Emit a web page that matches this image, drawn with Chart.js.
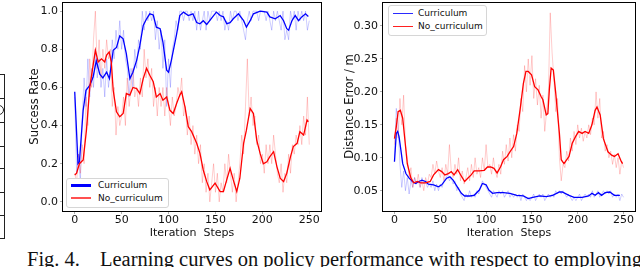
<!DOCTYPE html>
<html>
<head>
<meta charset="utf-8">
<script src="https://cdn.jsdelivr.net/npm/chart.js"></script>
<style>
  body { margin: 0; background: #fff; }
  #wrap { position: relative; width: 640px; height: 267px; overflow: hidden; background: #fff; }
  canvas { position: absolute; top: 0; }
  #leftChart { left: 0; }
  #rightChart { left: 330px; }
  .legend { position: absolute; background: #fff; border: 1px solid #d6d6d6; border-radius: 3px; z-index: 2;
            font-family: "DejaVu Sans"; font-size: 9px; color: #111; }
  .legend .row { position: absolute; white-space: nowrap; line-height: 11px; height: 11px; }
  .legend .swatch { position: absolute; left: 4px; width: 20px; }
  .caption { position: absolute; top: 248px; font-family: "Liberation Serif"; font-size: 20.5px; color: #111; white-space: nowrap; }
  .tbl { position: absolute; left: -2px; width: 5px; border: 1px solid #222; }
</style>
</head>
<body>
<div id="wrap">
  <div class="tbl" style="top:74px;height:23px"></div>
  <div class="tbl" style="top:98px;height:23px"></div>
  <div class="tbl" style="top:122px;height:23px"></div>
  <div class="tbl" style="top:146px;height:21px"></div>
  <div class="tbl" style="top:168px;height:23px"></div>
  <div class="tbl" style="top:192px;height:22px"></div>
  <div class="tbl" style="top:215px;height:22px"></div>
  <div style="position:absolute;left:-6px;top:105px;width:8px;height:8px;border:1px solid #222;border-radius:50%"></div>

  <canvas id="leftChart" width="330" height="245"></canvas>
  <canvas id="rightChart" width="310" height="245"></canvas>

  <div class="legend" style="left:66px;top:178px;width:101px;height:28px">
    <div class="row" style="left:0;top:1px"><span class="swatch" style="top:4px;height:3px;background:#0000ff"></span><span style="position:absolute;left:31px">Curriculum</span></div>
    <div class="row" style="left:0;top:14px"><span class="swatch" style="top:4px;height:2px;background:#ff5050"></span><span style="position:absolute;left:31px">No_curriculum</span></div>
  </div>
  <div class="legend" style="left:388px;top:5px;width:97px;height:29px">
    <div class="row" style="left:0;top:2px"><span class="swatch" style="top:5px;height:1px;background:#2a2aff"></span><span style="position:absolute;left:29px">Curriculum</span></div>
    <div class="row" style="left:0;top:15px"><span class="swatch" style="top:5px;height:1px;background:#ff2020"></span><span style="position:absolute;left:29px">No_curriculum</span></div>
  </div>

  <div class="caption" style="left:27px">Fig. 4.</div>
  <div class="caption" style="left:100px">Learning curves on policy performance with respect to employing</div>
</div>

<script>
// x positions of the raw (unsmoothed) logs
const rawSteps = [0,2,4,6,8,10,12,14,16,18,20,22,24,26,28,30,32,34,36,38,40,42,44,46,48,50,52,54,56,58,
  60,62,64,66,68,70,72,74,76,78,80,82,84,86,88,90,92,94,96,98,100,102,104,106,108,110,112,114,116,118,
  120,122,124,126,128,130,132,134,136,138,140,142,144,146,148,150,152,154,156,158,160,162,164,166,168,170,
  172,174,176,178,180,182,184,186,188,190,192,194,196,198,200,202,204,206,208,210,212,214,216,218,220,222,
  224,226,228,230,232,234,236,238,240,242,244,246,248,250]

const xTicks = [0, 50, 100, 150, 200, 250]
const rateTicks = [0.0, 0.2, 0.4, 0.6, 0.8, 1.0]
const errorTicks = [0.05, 0.10, 0.15, 0.20, 0.25, 0.30]

// success rate - raw
const rateCurRaw = [0.55,0.15,0.25,0.1,0.45,0.65,0.5,0.75,0.55,0.7,
  0.6,0.8,0.65,0.75,0.6,0.7,0.55,0.75,0.6,0.7,
  0.85,0.75,0.9,0.8,0.95,0.8,0.9,0.75,0.7,0.55,
  0.7,0.6,0.8,0.7,0.85,0.8,1.0,0.9,1.0,0.95,
  1.0,0.95,1.0,0.85,0.95,0.8,0.9,0.7,0.85,0.5,
  0.75,0.6,0.8,0.85,0.95,0.9,1.0,1.0,0.95,1.0,
  1.0,0.95,1.0,0.95,1.0,0.9,1.0,0.9,0.95,1.0,
  0.9,1.0,0.95,1.0,1.0,1.0,0.95,1.0,0.95,1.0,
  0.9,0.95,0.9,1.0,0.95,1.0,1.0,0.95,1.0,0.95,
  0.9,0.85,0.95,1.0,0.95,1.0,1.0,1.0,0.95,1.0,
  1.0,1.0,0.95,1.0,0.95,0.9,1.0,0.95,1.0,0.95,
  0.9,1.0,0.85,0.9,0.85,1.0,0.95,1.0,0.9,1.0,
  0.95,1.0,0.95,1.0,0.9,0.95]
const rateNoRaw = [0.15,0.1,0.25,0.15,0.3,0.2,0.55,0.4,0.75,0.6,
  0.85,1.0,0.7,0.85,0.65,0.8,0.7,0.85,0.75,0.8,
  0.5,0.6,0.35,0.5,0.4,0.45,0.55,0.4,0.65,0.5,
  0.6,0.7,0.55,0.6,0.5,0.65,0.55,0.8,0.65,0.75,
  0.6,0.7,0.5,0.6,0.45,0.6,0.5,0.6,0.45,0.6,
  0.5,0.4,0.55,0.45,0.5,0.6,0.55,0.65,0.45,0.5,
  0.35,0.45,0.3,0.4,0.25,0.35,0.2,0.3,0.1,0.2,
  0.05,0.15,0.0,0.1,0.2,0.05,0.15,0.0,0.1,0.05,
  0.2,0.1,0.25,0.15,0.05,0.15,0.0,0.1,0.2,0.35,
  0.25,0.5,0.75,0.45,0.55,0.4,0.45,0.3,0.35,0.2,
  0.25,0.15,0.3,0.2,0.3,0.2,0.35,0.25,0.15,0.1,
  0.2,0.05,0.15,0.1,0.25,0.15,0.3,0.25,0.35,0.3,
  0.4,0.3,0.45,0.35,0.55,0.3]

// success rate - smoothed
const rateCurSteps = [0,3.5,5,9,12,16,19.6,23,26.7,30,34,37,41,44.5,48,51.6,55,58.8,62,66,
  69.4,73,76.6,80,83.7,87,91,94,98,100,103,108.6,112,116,121,126,130,133.5,137,140.7,
  148,151,155,158.5,162,165.6,169,174.5,180,183,187,190.5,197.6,204.8,208,213.7,219,222.6,226,228,
  231.5,235,238.6,242,246,249]
const rateCur = [0.577,0.20,0.21,0.48,0.585,0.61,0.655,0.74,0.67,0.65,0.68,0.646,0.795,0.81,0.87,0.855,0.777,0.646,0.68,0.742,
  0.82,0.925,0.96,0.986,0.98,0.916,0.908,0.838,0.69,0.68,0.742,0.88,0.977,0.995,0.977,0.986,0.94,0.934,0.95,0.93,
  0.977,0.995,0.977,0.97,0.934,0.94,0.96,0.986,0.95,0.916,0.95,0.986,1.0,0.995,0.97,0.96,0.977,0.95,0.908,0.9,
  0.95,0.977,0.95,0.97,0.986,0.972]
const rateNoSteps = [0,2,5,9,12.5,16,19.6,22,25,28.5,32,34,36.7,39,41,44.5,48,51.6,55,58.8,
  62,66,69.4,73,76.6,80,83.7,87,91,94,98,101.5,105,108.6,112,114,117.5,121,124.6,130,
  133.5,137,140.7,144,149.6,155,158.5,162,165.6,169,172.7,176,180,183,187,190.5,194,197.6,201,204.8,
  208,212,215.5,219,222.6,226,230,233,237,240,244,247.6,249]
const rateNo = [0.141,0.15,0.2,0.22,0.376,0.6,0.716,0.795,0.733,0.75,0.733,0.77,0.786,0.733,0.585,0.472,0.446,0.463,0.568,0.56,
  0.60,0.594,0.568,0.646,0.70,0.664,0.63,0.55,0.568,0.533,0.55,0.48,0.463,0.516,0.56,0.577,0.498,0.394,0.368,0.307,
  0.254,0.167,0.106,0.063,0.098,0.054,0.054,0.115,0.176,0.115,0.054,0.124,0.307,0.376,0.49,0.463,0.324,0.254,0.20,0.21,
  0.237,0.263,0.185,0.124,0.106,0.15,0.237,0.29,0.307,0.368,0.35,0.429,0.42]

// distance error - raw
const errCurRaw = [0.1,0.175,0.15,0.09,0.055,0.08,0.05,0.07,0.045,0.065,
  0.055,0.07,0.06,0.065,0.055,0.07,0.06,0.065,0.055,0.06,
  0.055,0.065,0.05,0.06,0.05,0.06,0.055,0.065,0.07,0.075,
  0.065,0.07,0.06,0.065,0.05,0.055,0.045,0.04,0.035,0.045,
  0.04,0.05,0.04,0.045,0.04,0.05,0.045,0.055,0.065,0.06,
  0.055,0.05,0.045,0.04,0.05,0.045,0.04,0.05,0.045,0.05,
  0.04,0.045,0.05,0.04,0.045,0.04,0.045,0.04,0.045,0.035,
  0.045,0.04,0.035,0.04,0.035,0.04,0.045,0.035,0.04,0.045,
  0.04,0.045,0.035,0.04,0.045,0.04,0.045,0.04,0.05,0.045,
  0.05,0.045,0.05,0.045,0.04,0.045,0.04,0.035,0.04,0.035,
  0.04,0.045,0.035,0.04,0.045,0.04,0.045,0.04,0.05,0.04,
  0.045,0.05,0.04,0.045,0.05,0.045,0.05,0.045,0.05,0.04,
  0.045,0.04,0.045,0.035,0.045,0.04]
const errNoRaw = [0.12,0.16,0.13,0.19,0.15,0.195,0.12,0.1,0.07,0.085,
  0.055,0.07,0.06,0.075,0.055,0.065,0.05,0.07,0.06,0.075,
  0.07,0.09,0.075,0.095,0.08,0.07,0.085,0.065,0.09,0.075,
  0.12,0.08,0.07,0.09,0.075,0.1,0.065,0.08,0.06,0.07,
  0.085,0.065,0.09,0.07,0.1,0.075,0.085,0.07,0.1,0.08,
  0.12,0.085,0.09,0.075,0.1,0.08,0.07,0.09,0.075,0.11,
  0.09,0.12,0.095,0.13,0.1,0.135,0.11,0.15,0.14,0.19,
  0.17,0.24,0.2,0.25,0.21,0.255,0.19,0.22,0.18,0.21,
  0.16,0.195,0.14,0.17,0.2,0.32,0.26,0.22,0.17,0.19,
  0.1,0.065,0.09,0.085,0.11,0.095,0.13,0.11,0.14,0.12,
  0.15,0.13,0.145,0.125,0.14,0.13,0.15,0.135,0.16,0.15,
  0.2,0.16,0.19,0.13,0.14,0.11,0.12,0.1,0.11,0.09,
  0.105,0.085,0.1,0.075,0.095,0.085]

// distance error - smoothed
const errCurSteps = [0,2,3.5,5,7,9,12.5,16,19.6,23,26.7,30,34,37,42.7,48,51.6,57,60.5,64,
  69.4,73,76.6,82,87,92.6,96,100,103,107,112,119,126,133.5,140.7,146,151,158.5,165.6,172.7,
  180,183,190.5,196,204.8,212,215.5,219,222.6,226,230,235,240,246]
const errCur = [0.094,0.137,0.14,0.132,0.112,0.091,0.076,0.069,0.064,0.061,0.064,0.066,0.064,0.06,0.059,0.056,0.059,0.069,0.071,0.066,
  0.054,0.046,0.042,0.042,0.043,0.051,0.061,0.059,0.051,0.046,0.047,0.047,0.046,0.043,0.042,0.038,0.04,0.042,0.041,0.043,
  0.048,0.048,0.043,0.04,0.04,0.042,0.046,0.043,0.047,0.043,0.047,0.048,0.043,0.043]
const errNoSteps = [0,2,4,6.4,9,11.4,14,18,21,25,28.5,34,39,42.7,48,51.6,55,58.8,62,65,
  69,73,76.6,80,83.7,87,92.6,98,101.5,105,108.6,112,115.7,119,123,126,130,133.5,137,140.7,
  143.5,146,149.6,153,156.7,160,162,165.6,167.4,169,171,173.4,176,180,182,185,190.5,194,197.6,201,
  204.8,208,212,215.5,219,221,224.5,228,233,237,240,244,247.6,249]
const errNo = [0.129,0.147,0.17,0.172,0.16,0.127,0.091,0.069,0.062,0.064,0.062,0.062,0.064,0.074,0.082,0.079,0.074,0.076,0.079,0.074,
  0.082,0.072,0.064,0.069,0.074,0.08,0.08,0.081,0.086,0.086,0.084,0.077,0.086,0.097,0.102,0.109,0.117,0.137,0.172,0.213,
  0.231,0.231,0.226,0.208,0.203,0.193,0.188,0.165,0.167,0.203,0.236,0.233,0.198,0.137,0.097,0.091,0.102,0.122,0.132,0.14,
  0.137,0.14,0.137,0.15,0.172,0.177,0.165,0.129,0.109,0.104,0.102,0.106,0.094,0.091]

const FONT = 'DejaVu Sans'
const BLUE = '#0000ff'
const RED = '#ff0000'

function points(xs, ys) {
  return xs.map((x, i) => ({ x: x, y: ys[i] }))
}

function line(xs, ys, color, width, order) {
  return {
    data: points(xs, ys),
    borderColor: color,
    borderWidth: width,
    pointRadius: 0,
    tension: 0,
    fill: false,
    order: order
  }
}

// matplotlib style box around the axes
const frame = {
  id: 'frame',
  afterDatasetsDraw(chart) {
    const a = chart.chartArea
    const ctx = chart.ctx
    ctx.save()
    ctx.strokeStyle = '#000'
    ctx.lineWidth = 1
    ctx.strokeRect(Math.round(a.left) - 0.5, Math.round(a.top) + 0.5,
      Math.round(a.right - a.left) + 1, Math.round(a.bottom - a.top))
    ctx.restore()
  }
}

function makeChart(canvasId, cfg) {
  const tickGrid = { drawOnChartArea: false, drawTicks: true, tickLength: 3, color: '#b0b0b0' }
  return new Chart(document.getElementById(canvasId), {
    type: 'line',
    data: { datasets: cfg.datasets },
    options: {
      responsive: false,
      animation: false,
      events: [],
      layout: { padding: { left: 0, top: 2, right: cfg.padRight, bottom: 0 } },
      plugins: { legend: { display: false }, tooltip: { enabled: false } },
      scales: {
        x: {
          type: 'linear',
          min: -12.5,
          max: 262.5,
          afterBuildTicks: s => { s.ticks = xTicks.map(v => ({ value: v })) },
          afterFit: s => { s.height = 34; s.paddingLeft = 0; s.paddingRight = 0 },
          ticks: { font: { family: FONT, size: 11 }, color: '#111', padding: 0, maxRotation: 0, autoSkip: false },
          grid: tickGrid,
          border: { display: false },
          title: { display: true, text: 'Iteration  Steps', color: '#111',
                   font: { family: FONT, size: 11 }, padding: { top: 0, bottom: 5 } }
        },
        y: {
          type: 'linear',
          min: cfg.yMin,
          max: cfg.yMax,
          afterBuildTicks: s => { s.ticks = cfg.yTicks.map(v => ({ value: v })) },
          afterFit: s => { s.width = cfg.yWidth; s.paddingTop = 0; s.paddingBottom = 0 },
          ticks: { font: { family: FONT, size: 11 }, color: '#111', padding: 2,
                   callback: v => v.toFixed(cfg.digits) },
          grid: tickGrid,
          border: { display: false },
          title: { display: true, text: cfg.yTitle, color: '#111',
                   font: { family: FONT, size: 11.5 }, padding: { top: cfg.titlePad, bottom: 0 } }
        }
      }
    },
    plugins: [frame]
  })
}

makeChart('leftChart', {
  datasets: [
    line(rateNoSteps, rateNo, RED, 1.3, 0),
    line(rateCurSteps, rateCur, BLUE, 1.3, 1),
    line(rawSteps, rateNoRaw, 'rgba(255,0,0,0.2)', 1, 2),
    line(rawSteps, rateCurRaw, 'rgba(0,0,255,0.2)', 1, 3)
  ],
  yMin: -0.048, yMax: 1.048, yTicks: rateTicks, digits: 1,
  yWidth: 63, padRight: 9, titlePad: 28, yTitle: 'Success Rate'
})

makeChart('rightChart', {
  datasets: [
    line(errNoSteps, errNo, RED, 1.3, 0),
    line(errCurSteps, errCur, BLUE, 1.3, 1),
    line(rawSteps, errNoRaw, 'rgba(255,0,0,0.2)', 1, 2),
    line(rawSteps, errCurRaw, 'rgba(0,0,255,0.2)', 1, 3)
  ],
  yMin: 0.0192, yMax: 0.3364, yTicks: errorTicks, digits: 2,
  yWidth: 53, padRight: 5, titlePad: 13, yTitle: 'Distance Error / m'
})
</script>
</body>
</html>
